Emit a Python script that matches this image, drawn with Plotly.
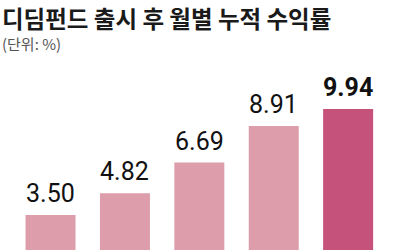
import plotly.graph_objects as go

categories = ["1월", "2월", "3월", "4월", "5월"]
values = [3.50, 4.82, 6.69, 8.91, 9.94]
labels = ["3.50", "4.82", "6.69", "8.91", "9.94"]
colors = ["#dd9dab", "#dd9dab", "#dd9dab", "#dd9dab", "#c4527a"]
title_text = "디딤펀드 출시 후 월별 누적 수익률"
unit_text = "(단위: %)"

fig = go.Figure()
fig.add_trace(go.Bar(
    x=categories, y=values, marker=dict(color=colors, line=dict(width=0)),
    width=0.672, hoverinfo="skip",
))

num_font = "Liberation Sans Narrow, Arial Narrow, Roboto, sans-serif"
annotations = []
for i, (c, v, t) in enumerate(zip(categories, values, labels)):
    last = i == len(values) - 1
    annotations.append(dict(
        x=c, y=v, xref="x", yref="y", text=f"<b>{t}</b>" if last else t,
        showarrow=False, yanchor="bottom", yshift=5,
        font=dict(family=num_font, size=25, color="#111111"),
    ))
annotations.append(dict(
    x=0, y=1, xref="paper", yref="paper", xanchor="left", yanchor="top",
    xshift=1, yshift=60, borderpad=0, text=f"<b>{title_text}</b>", showarrow=False,
    font=dict(family="Noto Sans CJK KR", size=23.5, color="#1a1a1a"),
))
annotations.append(dict(
    x=0, y=1, xref="paper", yref="paper", xanchor="left", yanchor="top",
    xshift=1, yshift=28, borderpad=0, text=unit_text, showarrow=False,
    font=dict(family="Noto Sans CJK KR", size=15, color="#555555"),
))

fig.update_layout(
    width=400, height=250,
    margin=dict(l=0, r=0, t=60, b=0),
    paper_bgcolor="white", plot_bgcolor="white",
    showlegend=False,
    xaxis=dict(range=[-0.679, 4.697], visible=False, fixedrange=True),
    yaxis=dict(range=[1.373, 12.92], visible=False, fixedrange=True),
    annotations=annotations,
)

fig.write_html("out.html", config={"displayModeBar": False})
